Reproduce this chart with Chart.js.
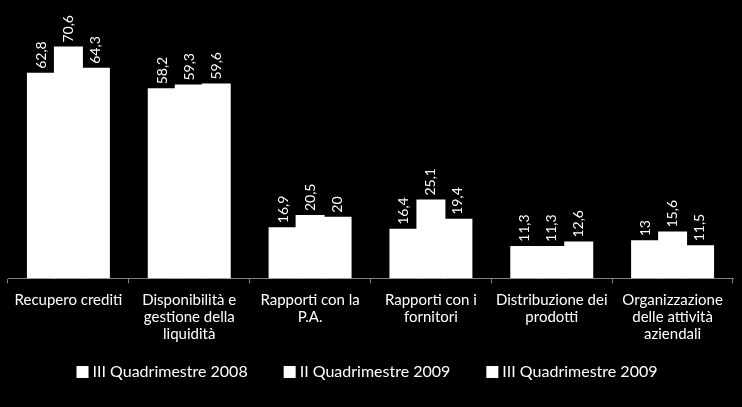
<!DOCTYPE html>
<html>
<head>
<meta charset="utf-8">
<script src="https://cdn.jsdelivr.net/npm/chart.js@4/dist/chart.umd.min.js"></script>
<style>
  html, body { margin: 0; padding: 0; background: #000; }
  #wrap { width: 742px; height: 407px; position: relative; }
</style>
</head>
<body>
<div id="wrap"><canvas id="c"></canvas></div>
<script>
const categories = [
  "Recupero crediti",
  ["Disponibilità e", "gestione della", "liquidità"],
  ["Rapporti con la", "P.A."],
  ["Rapporti con i", "fornitori"],
  ["Distribuzione dei", "prodotti"],
  ["Organizzazione", "delle attività", "aziendali"]
];
const seriesNames = ["III Quadrimestre 2008", "II Quadrimestre 2009", "III Quadrimestre 2009"];
const q3_2008 = [62.8, 58.2, 16.9, 16.4, 11.3, 13];
const q2_2009 = [70.6, 59.3, 20.5, 25.1, 11.3, 15.6];
const q3_2009 = [64.3, 59.6, 20, 19.4, 12.6, 11.5];

const FONT = "Lato, 'Open Sans', sans-serif";

const valueLabels = {
  id: 'valueLabels',
  afterDatasetsDraw(chart) {
    const ctx = chart.ctx;
    ctx.save();
    ctx.fillStyle = '#ffffff';
    ctx.font = '14px ' + FONT;
    ctx.textAlign = 'left';
    ctx.textBaseline = 'middle';
    chart.data.datasets.forEach((ds, di) => {
      const meta = chart.getDatasetMeta(di);
      meta.data.forEach((bar, i) => {
        const txt = String(ds.data[i]).replace('.', ',');
        ctx.save();
        ctx.translate(bar.x, bar.y - 5);
        ctx.rotate(-Math.PI / 2);
        ctx.fillText(txt, 0, 0);
        ctx.restore();
      });
    });
    ctx.restore();
  }
};

// Legend drawn at the bottom (space reserved by layout padding)
const bottomLegend = {
  id: 'bottomLegend',
  afterDraw(chart) {
    const ctx = chart.ctx;
    ctx.save();
    ctx.font = '16px ' + FONT;
    ctx.fillStyle = '#ffffff';
    ctx.textAlign = 'left';
    ctx.textBaseline = 'middle';
    const box = 12, gap = 4, spacing = 36, cy = 372;
    const items = chart.data.datasets.map(ds => ({ text: ds.label, w: ctx.measureText(ds.label).width }));
    const total = items.reduce((s, it) => s + box + gap + it.w, 0) + spacing * (items.length - 1);
    let x = 367 - total / 2;
    items.forEach(it => {
      ctx.fillRect(x, cy - box / 2, box, box);
      ctx.fillText(it.text, x + box + gap, cy);
      x += box + gap + it.w + spacing;
    });
    ctx.restore();
  }
};

new Chart(document.getElementById('c'), {
  type: 'bar',
  data: {
    labels: categories,
    datasets: [
      { label: seriesNames[0], data: q3_2008 },
      { label: seriesNames[1], data: q2_2009 },
      { label: seriesNames[2], data: q3_2009 }
    ].map(d => Object.assign(d, {
      backgroundColor: '#ffffff',
      borderWidth: 0,
      inflateAmount: 1,
      categoryPercentage: 0.67,
      barPercentage: 1.0
    }))
  },
  options: {
    responsive: true,
    maintainAspectRatio: false,
    animation: false,
    layout: { padding: { top: 16, left: 8, right: 9, bottom: 56 } },
    plugins: {
      tooltip: { enabled: false },
      legend: { display: false }
    },
    scales: {
      x: {
        offset: true,
        grid: {
          display: true,
          drawOnChartArea: false,
          drawTicks: true,
          tickLength: 5,
          color: '#808080',
          offset: true
        },
        border: { display: true, color: '#808080', width: 1 },
        ticks: {
          color: '#ffffff',
          font: { family: FONT, size: 15, lineHeight: 1.15 },
          maxRotation: 0,
          minRotation: 0,
          autoSkip: false,
          padding: 8
        }
      },
      y: {
        display: false,
        min: 2,
        max: 80
      }
    }
  },
  plugins: [valueLabels, bottomLegend]
});
</script>
</body>
</html>
